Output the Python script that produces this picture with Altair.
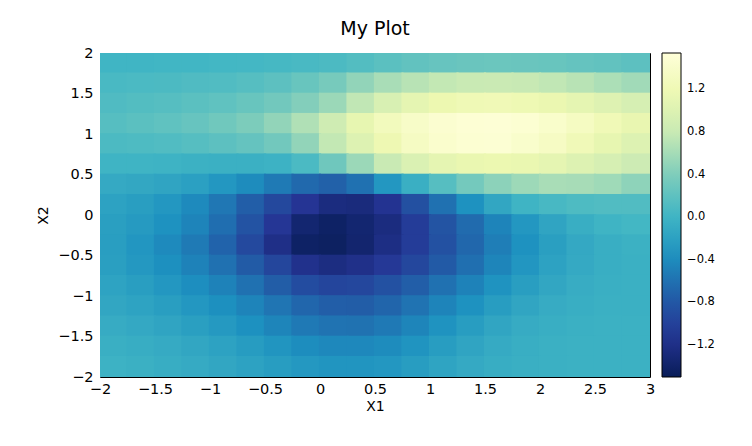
import altair as alt
import pandas as pd

# Cell centres of the gridded surface
x_centers = [-1.875, -1.625, -1.375, -1.125, -0.875, -0.625, -0.375, -0.125,
             0.125, 0.375, 0.625, 0.875, 1.125, 1.375, 1.625, 1.875,
             2.125, 2.375, 2.625, 2.875]
y_centers = [1.875, 1.625, 1.375, 1.125, 0.875, 0.625, 0.375, 0.125,
             -0.125, -0.375, -0.625, -0.875, -1.125, -1.375, -1.625, -1.875]
half_step = 0.125
overlap = 0.01  # hides anti-aliasing seams between neighbouring cells

# Estimated surface values, one row per y centre (top to bottom)
z_rows = [
    [0.01, 0.01, 0.02, 0.02, 0.03, 0.04, 0.05, 0.07, 0.09, 0.13, 0.18, 0.22, 0.25, 0.27, 0.28, 0.27, 0.26, 0.24, 0.22, 0.19],
    [0.07, 0.08, 0.09, 0.11, 0.12, 0.15, 0.19, 0.26, 0.35, 0.50, 0.62, 0.70, 0.76, 0.80, 0.81, 0.79, 0.75, 0.70, 0.64, 0.58],
    [0.11, 0.13, 0.15, 0.18, 0.21, 0.26, 0.32, 0.42, 0.55, 0.75, 0.95, 1.08, 1.16, 1.21, 1.22, 1.19, 1.14, 1.08, 1.01, 0.93],
    [0.15, 0.18, 0.21, 0.25, 0.31, 0.38, 0.50, 0.66, 0.86, 1.10, 1.27, 1.38, 1.45, 1.49, 1.50, 1.47, 1.41, 1.32, 1.22, 1.12],
    [0.09, 0.10, 0.12, 0.15, 0.19, 0.24, 0.32, 0.50, 0.76, 1.00, 1.18, 1.33, 1.43, 1.47, 1.48, 1.42, 1.34, 1.23, 1.10, 1.00],
    [0.00, 0.00, -0.01, -0.03, -0.04, -0.04, -0.02, 0.08, 0.30, 0.55, 0.80, 0.97, 1.08, 1.13, 1.15, 1.13, 1.08, 1.00, 0.93, 0.84],
    [-0.11, -0.13, -0.16, -0.21, -0.30, -0.40, -0.53, -0.66, -0.72, -0.60, -0.30, -0.05, 0.15, 0.33, 0.47, 0.56, 0.62, 0.61, 0.57, 0.48],
    [-0.19, -0.23, -0.30, -0.41, -0.55, -0.74, -0.94, -1.12, -1.25, -1.27, -1.14, -0.87, -0.60, -0.35, -0.14, 0.00, 0.06, 0.10, 0.12, 0.12],
    [-0.22, -0.27, -0.35, -0.46, -0.62, -0.84, -1.10, -1.35, -1.42, -1.35, -1.25, -1.05, -0.83, -0.64, -0.46, -0.30, -0.16, -0.06, 0.00, 0.03],
    [-0.23, -0.31, -0.41, -0.53, -0.70, -0.93, -1.20, -1.42, -1.44, -1.36, -1.22, -1.05, -0.86, -0.67, -0.50, -0.35, -0.22, -0.12, -0.06, -0.03],
    [-0.22, -0.29, -0.37, -0.47, -0.60, -0.77, -0.96, -1.17, -1.24, -1.19, -1.08, -0.95, -0.78, -0.61, -0.45, -0.31, -0.19, -0.11, -0.06, -0.04],
    [-0.18, -0.23, -0.30, -0.38, -0.47, -0.60, -0.75, -0.90, -0.97, -0.95, -0.86, -0.74, -0.60, -0.47, -0.34, -0.23, -0.14, -0.08, -0.05, -0.04],
    [-0.14, -0.18, -0.23, -0.30, -0.37, -0.46, -0.57, -0.68, -0.74, -0.75, -0.69, -0.58, -0.46, -0.35, -0.24, -0.15, -0.09, -0.06, -0.04, -0.04],
    [-0.09, -0.12, -0.16, -0.22, -0.28, -0.36, -0.45, -0.54, -0.58, -0.59, -0.54, -0.45, -0.34, -0.24, -0.15, -0.09, -0.06, -0.04, -0.03, -0.03],
    [-0.05, -0.07, -0.10, -0.14, -0.19, -0.25, -0.32, -0.39, -0.43, -0.43, -0.40, -0.33, -0.24, -0.16, -0.10, -0.06, -0.04, -0.03, -0.03, -0.03],
    [-0.02, -0.04, -0.07, -0.10, -0.14, -0.19, -0.24, -0.29, -0.32, -0.32, -0.30, -0.24, -0.17, -0.11, -0.07, -0.05, -0.04, -0.03, -0.03, -0.03],
]

x_ticks = [-2, -1.5, -1, -0.5, 0, 0.5, 1, 1.5, 2, 2.5, 3]
y_ticks = [-2, -1.5, -1, -0.5, 0, 0.5, 1, 1.5, 2]
cbar_ticks = [-1.2, -0.8, -0.4, 0.0, 0.4, 0.8, 1.2]

# YlGnBu (reversed: dark for low values)
cmap_colors = ["#081d58", "#253494", "#225ea8", "#1d91c0", "#41b6c4",
               "#7fcdbb", "#c7e9b4", "#edf8b1", "#ffffd9"]
zmin, zmax = -1.5, 1.54
cmap_domain = [zmin + i * (zmax - zmin) / 8 for i in range(9)]

records = []
for i, yc in enumerate(y_centers):
    for j, xc in enumerate(x_centers):
        records.append({
            "x": xc - half_step - overlap, "x2": xc + half_step + overlap,
            "y": yc - half_step - overlap, "y2": yc + half_step + overlap,
            "z": z_rows[i][j],
        })
df = pd.DataFrame(records)

FONT = "DejaVu Sans"
cscale = alt.Scale(domain=cmap_domain, range=cmap_colors, interpolate="rgb")

chart = alt.Chart(df).mark_rect(clip=True).encode(
    x=alt.X("x:Q", scale=alt.Scale(domain=[-2, 3], nice=False, zero=False),
            axis=alt.Axis(values=x_ticks, format="~g", title="X1", grid=False,
                          ticks=False, domain=False, labelPadding=5,
                          labelFlush=False, labelOverlap=False,
                          titlePadding=4, labelFont=FONT, titleFont=FONT,
                          labelFontSize=14.5, titleFontSize=14,
                          labelColor="black", titleColor="black",
                          titleFontWeight="normal")),
    x2="x2:Q",
    y=alt.Y("y:Q", scale=alt.Scale(domain=[-2, 2], nice=False, zero=False),
            axis=alt.Axis(values=y_ticks, format="~g", title="X2", grid=False,
                          ticks=False, domain=False, labelPadding=7,
                          labelFlush=False, labelOverlap=False,
                          titlePadding=7, labelFont=FONT, titleFont=FONT,
                          labelFontSize=14.5, titleFontSize=14,
                          labelColor="black", titleColor="black",
                          titleFontWeight="normal")),
    y2="y2:Q",
    color=alt.Color("z:Q", scale=cscale,
                    legend=alt.Legend(type="gradient", title=None,
                                      orient="right", offset=12,
                                      direction="vertical",
                                      gradientLength=324, gradientThickness=19,
                                      gradientStrokeColor="black",
                                      gradientStrokeWidth=1,
                                      values=cbar_ticks, format=".1f",
                                      labelFontSize=11.5, labelFont=FONT,
                                      labelColor="black", labelOffset=6,
                                      labelOverlap=False, padding=0)),
).properties(
    width=550, height=324,
    title=alt.TitleParams("My Plot", fontSize=19, font=FONT, fontWeight="normal",
                          color="black", offset=6),
    autosize=alt.AutoSizeParams(type="none"),
    padding={"left": 92, "top": 45, "right": 94, "bottom": 61},
    background="white",
).configure_view(
    stroke="black", strokeWidth=1
)

chart.save("out.html", embed_options={"renderer": "svg", "actions": False})
